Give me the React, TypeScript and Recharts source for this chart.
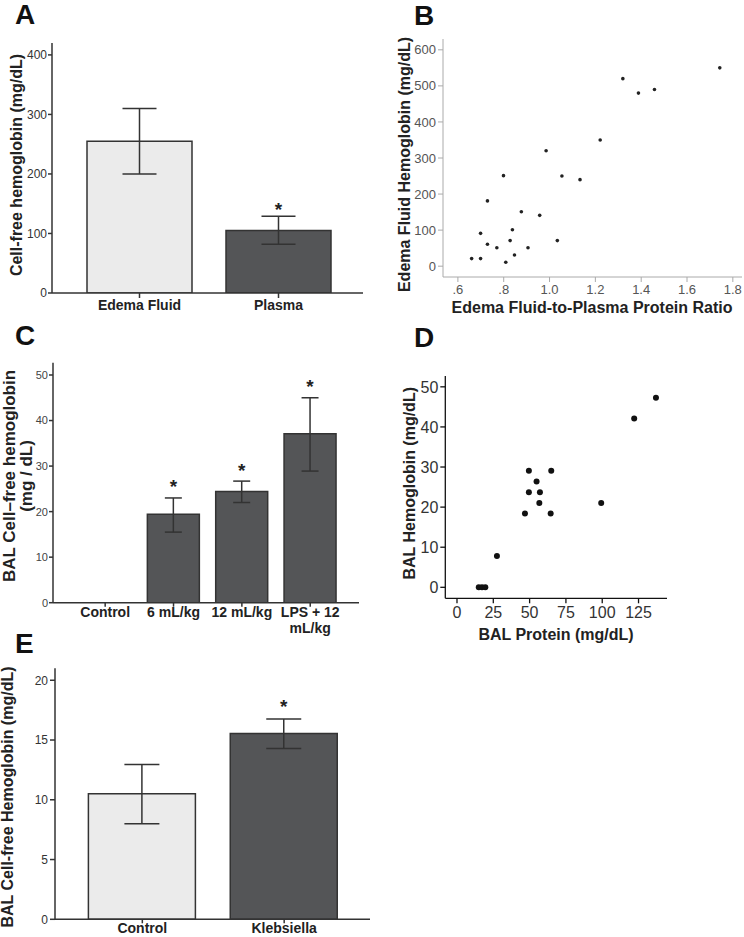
import React from "react";
import {
  Bar,
  BarChart,
  Cell,
  ErrorBar,
  Label,
  LabelList,
  Scatter,
  ScatterChart,
  XAxis,
  YAxis,
} from "recharts";

const FONT = '"Liberation Sans", Arial, Helvetica, sans-serif';
const LIGHT = "#ebebeb";
const DARK = "#545557";
const EDGE = "#333";

// Panel A
const groupsA = ["Edema Fluid", "Plasma"];
const meansA = [255, 105];
const lowsA = [200, 82];
const highsA = [310, 129];
const sigA = [false, true];
const ticksA = [0, 100, 200, 300, 400];

// Panel B
const ratioB = [1.743, 1.32, 1.388, 1.458, 1.221, 0.985, 0.799, 1.054, 1.133, 0.729, 0.877, 0.957, 0.699, 0.838, 0.828, 1.034, 0.729, 0.77, 0.906, 0.847, 0.66, 0.699, 0.809];
const hemoB = [550, 520, 480, 490, 350, 320, 251, 250, 240, 181, 151, 141, 91, 101, 71, 71, 61, 51, 51, 31, 21, 21, 11];
const xTicksB = [0.6, 0.8, 1.0, 1.2, 1.4, 1.6, 1.8];
const yTicksB = [0, 100, 200, 300, 400, 500, 600];

// Panel C
const groupsC = ["Control", "6 mL/kg", "12 mL/kg", "LPS + 12\nmL/kg"];
const meansC = [0, 19.4, 24.4, 37.1];
const lowsC = [0, 15.5, 22.0, 28.9];
const highsC = [0, 23.0, 26.7, 45.0];
const sigC = [false, true, true, true];
const ticksC = [0, 10, 20, 30, 40, 50];

// Panel D
const proteinD = [137, 122, 49.5, 64.9, 54.8, 49.5, 57.1, 56.7, 99.3, 46.8, 64.5, 27.5, 15, 17.2, 19.5];
const hemoD = [47.3, 42.1, 29.1, 29.1, 26.4, 23.7, 23.7, 21.0, 21.0, 18.4, 18.4, 7.8, 0, 0, 0];
const xTicksD = [0, 25, 50, 75, 100, 125];
const yTicksD = [0, 10, 20, 30, 40, 50];

// Panel E
const groupsE = ["Control", "Klebsiella"];
const meansE = [10.5, 15.55];
const lowsE = [8.0, 14.3];
const highsE = [12.95, 16.75];
const sigE = [false, true];
const ticksE = [0, 5, 10, 15, 20];

const barRows = (names: string[], means: number[], lows: number[], highs: number[]) =>
  names.map((name, i) => ({
    name,
    mean: means[i],
    err: [means[i] - lows[i], highs[i] - means[i]],
  }));

const dataA = barRows(groupsA, meansA, lowsA, highsA);
const dataC = barRows(groupsC, meansC, lowsC, highsC);
const dataE = barRows(groupsE, meansE, lowsE, highsE);
const dataB = ratioB.map((x, i) => ({ x, y: hemoB[i] }));
const dataD = proteinD.map((x, i) => ({ x, y: hemoD[i] }));

function CatTick(props: any) {
  const { x, y, payload, size } = props;
  const lines = String(payload.value).split("\n");
  return (
    <text x={x} y={y} textAnchor="middle" fontFamily={FONT} fontWeight="bold" fontSize={size} fill="#222">
      {lines.map((l, i) => (
        <tspan key={i} x={x} dy={i === 0 ? "0.71em" : "1.2em"}>
          {l}
        </tspan>
      ))}
    </text>
  );
}

// rotated axis title, each line given its baseline x
const yTitle = (lines: string[], xs: number[], cy: number, size: number) => () => (
  <g>
    {lines.map((l, i) => (
      <text
        key={i}
        x={xs[i]}
        y={cy}
        transform={`rotate(-90 ${xs[i]} ${cy})`}
        textAnchor="middle"
        fontFamily={FONT}
        fontWeight="bold"
        fontSize={size}
        fill="#222"
      >
        {l}
      </text>
    ))}
  </g>
);

const xTitle = (text: string, cx: number, y: number, size: number) => () => (
  <text x={cx} y={y} textAnchor="middle" fontFamily={FONT} fontWeight="bold" fontSize={size} fill="#222">
    {text}
  </text>
);

// asterisk above the upper whisker, scaled from the bar's own geometry
// (label value is the category name, so empty bars can't shift the lookup)
const star = (names: string[], means: number[], highs: number[], sig: boolean[], lift: number) => (props: any) => {
  const vb = props.viewBox ?? props;
  const i = names.indexOf(String(props.value));
  if (i < 0 || !sig[i] || !means[i]) return null;
  const x = vb.x ?? props.x;
  const y = vb.y ?? props.y;
  const w = vb.width ?? props.width;
  const h = vb.height ?? props.height;
  const top = y - ((highs[i] - means[i]) * h) / means[i];
  return (
    <text x={x + w / 2} y={top - lift} textAnchor="middle" fontFamily={FONT} fontWeight="bold" fontSize={19} fill="#222">
      *
    </text>
  );
};

const letterStyle = (left: number, top: number): React.CSSProperties => ({
  position: "absolute",
  left,
  top,
  fontFamily: FONT,
  fontWeight: "bold",
  fontSize: 28,
  lineHeight: 1,
  color: "#111",
});

const at = (left: number, top: number): React.CSSProperties => ({ position: "absolute", left, top });

export default function App() {
  return (
    <div style={{ position: "absolute", left: 0, top: 0, width: 744, height: 937, background: "#fff", overflow: "hidden" }}>
      {/* A */}
      <div style={at(0, 0)}>
        <BarChart width={372} height={320} data={dataA} margin={{ top: 43, right: 9, bottom: 2, left: 0 }}>
          <XAxis
            dataKey="name"
            height={25}
            padding={{ left: 18, right: 15 }}
            stroke={EDGE}
            strokeWidth={1.5}
            tickSize={5}
            tickMargin={2}
            tick={(p: any) => <CatTick {...p} size={14} />}
          />
          <YAxis
            width={52}
            domain={[0, 420]}
            ticks={ticksA}
            allowDataOverflow
            stroke={EDGE}
            strokeWidth={1.5}
            tickSize={4}
            tickMargin={1}
            tick={{ fill: "#333", fontSize: 12, fontFamily: FONT }}
          >
            <Label content={yTitle(["Cell-free hemoglobin (mg/dL)"], [22], 165, 16)} />
          </YAxis>
          <Bar dataKey="mean" barSize={105} stroke={EDGE} strokeWidth={1.5} isAnimationActive={false}>
            {dataA.map((d, i) => (
              <Cell key={d.name} fill={i === 0 ? LIGHT : DARK} />
            ))}
            <ErrorBar dataKey="err" width={17} stroke={EDGE} strokeWidth={1.5} isAnimationActive={false} />
            <LabelList dataKey="name" content={star(groupsA, meansA, highsA, sigA, 0)} />
          </Bar>
        </BarChart>
      </div>

      {/* B */}
      <div style={at(372, 0)}>
        <ScatterChart width={372} height={320} margin={{ top: 39, right: 2, bottom: 2, left: 0 }}>
          <XAxis
            type="number"
            dataKey="x"
            height={41}
            domain={[0.535, 1.84]}
            ticks={xTicksB}
            allowDataOverflow
            stroke="#aaa"
            tickSize={5}
            tickMargin={3}
            tickFormatter={(v: number) => (v < 1 ? "." + Math.round(v * 10) : v.toFixed(1))}
            tick={{ fill: "#555", fontSize: 13, fontFamily: FONT }}
          >
            <Label content={xTitle("Edema Fluid-to-Plasma Protein Ratio", 220, 313, 16)} />
          </XAxis>
          <YAxis
            type="number"
            dataKey="y"
            width={71}
            domain={[-30, 630]}
            ticks={yTicksB}
            allowDataOverflow
            stroke="#aaa"
            tickSize={5}
            tickMargin={2}
            tick={{ fill: "#555", fontSize: 13, fontFamily: FONT }}
          >
            <Label content={yTitle(["Edema Fluid Hemoglobin (mg/dL)"], [37.5], 164.5, 16)} />
          </YAxis>
          <Scatter
            data={dataB}
            fill="#222"
            isAnimationActive={false}
            shape={(p: any) => <circle cx={p.cx} cy={p.cy} r={1.8} fill="#222" />}
          />
        </ScatterChart>
      </div>

      {/* C */}
      <div style={at(0, 320)}>
        <BarChart width={372} height={330} data={dataC} margin={{ top: 42.7, right: 13, bottom: 2, left: 0 }}>
          <XAxis
            dataKey="name"
            height={45.3}
            padding={{ left: 18, right: 14.6 }}
            stroke={EDGE}
            strokeWidth={1.5}
            tickSize={4}
            tickMargin={0}
            interval={0}
            tick={(p: any) => <CatTick {...p} size={14} />}
          />
          <YAxis
            width={53}
            domain={[0, 52.7]}
            ticks={ticksC}
            allowDataOverflow
            stroke={EDGE}
            strokeWidth={1.5}
            tickSize={4}
            tickMargin={1}
            tick={{ fill: "#444", fontSize: 11, fontFamily: FONT }}
          >
            <Label content={yTitle(["BAL Cell\u2013free hemoglobin", "(mg / dL)"], [15.4, 32.4], 156, 17)} />
          </YAxis>
          <Bar dataKey="mean" barSize={52} fill={DARK} stroke={EDGE} strokeWidth={1.5} isAnimationActive={false}>
            <ErrorBar dataKey="err" width={8.5} stroke={EDGE} strokeWidth={1.5} isAnimationActive={false} />
            <LabelList dataKey="name" content={star(groupsC, meansC, highsC, sigC, 4.5)} />
          </Bar>
        </BarChart>
      </div>

      {/* D */}
      <div style={at(372, 320)}>
        <ScatterChart width={372} height={330} margin={{ top: 56, right: 77, bottom: 2, left: 0 }}>
          <XAxis
            type="number"
            dataKey="x"
            height={49.7}
            domain={[-8.05, 144.6]}
            ticks={xTicksD}
            allowDataOverflow
            stroke="#111"
            strokeWidth={1.3}
            tickSize={5}
            tickMargin={3}
            tick={{ fill: "#333", fontSize: 16, fontFamily: FONT }}
          >
            <Label content={xTitle("BAL Protein (mg/dL)", 184, 320, 16)} />
          </XAxis>
          <YAxis
            type="number"
            dataKey="y"
            width={73.3}
            domain={[-2.74, 52.7]}
            ticks={yTicksD}
            allowDataOverflow
            stroke="#111"
            strokeWidth={1.3}
            tickSize={5}
            tickMargin={2}
            tick={{ fill: "#333", fontSize: 16, fontFamily: FONT }}
          >
            <Label content={yTitle(["BAL Hemoglobin (mg/dL)"], [43.4], 163.3, 16)} />
          </YAxis>
          <Scatter
            data={dataD}
            fill="#111"
            isAnimationActive={false}
            shape={(p: any) => <circle cx={p.cx} cy={p.cy} r={3} fill="#111" />}
          />
        </ScatterChart>
      </div>

      {/* E */}
      <div style={at(0, 640)}>
        <BarChart width={372} height={297} data={dataE} margin={{ top: 28.3, right: 2, bottom: 1.7, left: 0 }}>
          <XAxis
            dataKey="name"
            height={16}
            padding={{ left: 16.4, right: 14.9 }}
            stroke={EDGE}
            strokeWidth={1.5}
            tickSize={4}
            tickMargin={0}
            tick={(p: any) => <CatTick {...p} size={14} />}
          />
          <YAxis
            width={55}
            domain={[0, 21]}
            ticks={ticksE}
            allowDataOverflow
            stroke={EDGE}
            strokeWidth={1.5}
            tickSize={5}
            tickMargin={2}
            tick={{ fill: "#333", fontSize: 12, fontFamily: FONT }}
          >
            <Label content={yTitle(["BAL Cell-free Hemoglobin (mg/dL)"], [13], 157, 16)} />
          </YAxis>
          <Bar dataKey="mean" barSize={107} stroke={EDGE} strokeWidth={1.5} isAnimationActive={false}>
            {dataE.map((d, i) => (
              <Cell key={d.name} fill={i === 0 ? LIGHT : DARK} />
            ))}
            <ErrorBar dataKey="err" width={17.5} stroke={EDGE} strokeWidth={1.5} isAnimationActive={false} />
            <LabelList dataKey="name" content={star(groupsE, meansE, highsE, sigE, 6)} />
          </Bar>
        </BarChart>
      </div>

      <div style={letterStyle(15, 1)}>A</div>
      <div style={letterStyle(414, 2)}>B</div>
      <div style={letterStyle(15, 322)}>C</div>
      <div style={letterStyle(414, 324)}>D</div>
      <div style={letterStyle(15, 630)}>E</div>
    </div>
  );
}
